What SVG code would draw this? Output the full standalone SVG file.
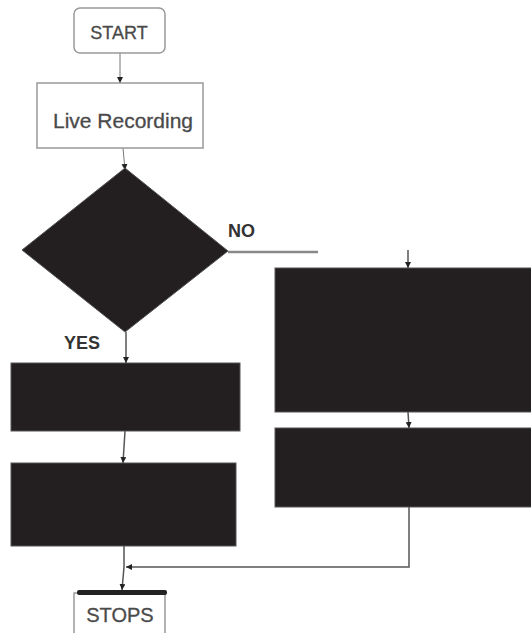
<svg xmlns="http://www.w3.org/2000/svg" width="531" height="633" viewBox="0 0 531 633">
<style>
.box{fill:#fff;stroke:#999;stroke-width:1.5}
.blk{fill:#231f20;stroke:#555;stroke-width:1}
.lbl{font-family:"Liberation Sans",Arial,sans-serif;fill:#4a4a4a;stroke:#4a4a4a;stroke-width:0.3}
.yn{font-family:"Liberation Sans",Arial,sans-serif;fill:#333;font-weight:bold;font-size:18px}
.ln{fill:none;stroke:#555;stroke-width:1.5}
.thin{fill:none;stroke:#777;stroke-width:1}
.gray{fill:none;stroke:#888;stroke-width:2.5}
</style>
<defs>
<marker id="ah" viewBox="0 0 10 10" refX="10" refY="5" markerWidth="6" markerHeight="6" orient="auto" markerUnits="userSpaceOnUse">
<path d="M0,0 L10,5 L0,10 z" fill="#222"/>
</marker>
</defs>
<g id="connectors">
<path class="thin" d="M120,53 L120,83" marker-end="url(#ah)"/>
<path class="thin" d="M123,148 L125,170" marker-end="url(#ah)"/>
<path class="gray" d="M228,252 L318,252"/>
<path class="ln" d="M408,250 L408,268" marker-end="url(#ah)"/>
<path class="ln" d="M126,332 L126,363" marker-end="url(#ah)"/>
<path class="ln" d="M125,431 L123,463" marker-end="url(#ah)"/>
<path class="ln" d="M408,412 L409,428" marker-end="url(#ah)"/>
<path class="ln" d="M124,546 L124,567 L122,590" marker-end="url(#ah)"/>
<path class="ln" d="M409,507 L409,567 L126,567" marker-end="url(#ah)"/>
</g>
<g id="start">
<rect class="box" x="74" y="8" width="91" height="45" rx="6"/>
<text class="lbl" x="119" y="39" font-size="18" text-anchor="middle">START</text>
</g>
<g id="live-recording">
<rect class="box" x="37" y="83" width="166" height="65"/>
<text class="lbl" x="123" y="128" font-size="21" text-anchor="middle">Live Recording</text>
</g>
<g id="decision">
<polygon class="blk" points="125,168 228,251 125,332 22,250"/>
<text class="yn" x="228" y="237">NO</text>
<text class="yn" x="64" y="349">YES</text>
</g>
<g id="left-box-1"><rect class="blk" x="11" y="363" width="229" height="68"/></g>
<g id="left-box-2"><rect class="blk" x="11" y="463" width="225" height="83"/></g>
<g id="right-box-1"><rect class="blk" x="275" y="268" width="260" height="144"/></g>
<g id="right-box-2"><rect class="blk" x="275" y="428" width="260" height="79"/></g>
<g id="stops">
<path class="box" d="M74,640 L74,593 L165,593 L165,640"/>
<rect x="77" y="590" width="90" height="5" rx="2" fill="#222"/>
<text class="lbl" x="120" y="622" font-size="20" text-anchor="middle">STOPS</text>
</g>
</svg>
